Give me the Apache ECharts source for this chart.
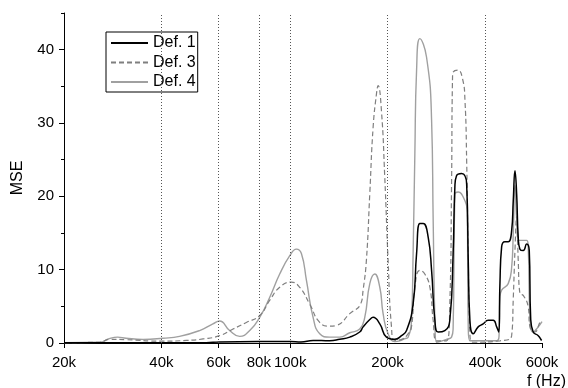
<!DOCTYPE html>
<html><head><meta charset="utf-8">
<script src="https://cdn.jsdelivr.net/npm/echarts@6/dist/echarts.min.js"></script>
<style>html,body{margin:0;padding:0;background:#fff}#c{width:568px;height:388px}</style>
</head><body><div id="c"></div>
<script>
// frequencies in kHz
const xTickValues = [20, 40, 60, 80, 100, 200, 400, 600];
const gridLineValues = [40, 60, 80, 100, 200, 400];
const yMajorTicks = [0, 10, 20, 30, 40];
const yMinorTicks = [5, 15, 25, 35, 45];
const seriesNames = ['Def. 1', 'Def. 3', 'Def. 4'];

const def1Freq = [20, 40, 55, 60.5, 80, 100, 108, 117.7, 132.5, 142.3, 152.8, 164, 168, 176.2, 180.4, 189.2, 198.4, 210.5, 220.8, 228.8, 239.8, 245.8, 251.6, 257.6, 267, 273.5, 280, 286.6, 300.5, 311.4, 318.8, 322.8, 326.6, 338.6, 351, 355, 359.2, 367.8, 381, 394.8, 409, 424, 434.6, 441, 444.8, 450.2, 460.8, 471.8, 483.4, 489, 495, 501, 506.6, 512.8, 525, 537.8, 548, 553.4, 563.6, 584.2, 598.4, 600];
const def1Mse = [0.02, 0.03, 0.05, 0.15, 0.2, 0.2, 0.15, 0.35, 0.3, 0.5, 0.8, 1.5, 2.2, 3.2, 3.5, 2.6, 0.8, 0.5, 1.0, 1.7, 5.3, 12.2, 16.3, 16.3, 14.4, 9.9, 3.1, 1.5, 1.7, 3.1, 12.2, 21.3, 22.8, 23.1, 21.7, 11.3, 3.1, 1.25, 2.2, 2.6, 3.1, 3.1, 2.2, 1.5, 8.1, 13.1, 13.8, 13.8, 15.3, 19.4, 23.5, 20.3, 14.4, 12.8, 12.6, 13.5, 12.6, 3.5, 1.5, 1.0, 0.35, 0.3];

const def3Freq = [20, 25.8, 27.6, 31.1, 40, 47.8, 53.8, 60.5, 66.6, 73.2, 80.5, 86.4, 92.8, 100.9, 107, 114.9, 123.4, 132.5, 139, 152.8, 165, 168, 172, 176.2, 180.4, 184.8, 186.9, 191.4, 196, 200.7, 205.6, 210.5, 221, 231, 237, 242.8, 251.6, 260.6, 270.2, 276.6, 283.4, 304.2, 311.4, 315.2, 317.6, 330, 341, 346.8, 351, 355, 359.2, 367.8, 444.8, 483.4, 489, 495, 501, 506.6, 512.8, 525, 544, 550.6, 570.6, 591.4, 600];
const def3Mse = [0.05, 0.1, 0.5, 0.45, 0.25, 0.35, 0.55, 1.0, 1.9, 2.8, 3.75, 5.8, 7.6, 8.3, 7.6, 5.3, 2.8, 2.3, 2.4, 4.0, 5.3, 7.2, 11.3, 20.4, 29.4, 34, 35.1, 31.7, 22.6, 11.3, 2.2, 0.35, 0.5, 1.2, 2.2, 7.6, 9.9, 9.4, 7.6, 3.1, 0.3, 0.3, 5.4, 21.3, 36.7, 37.2, 36, 33.1, 24.9, 11.3, 1.25, 0.1, 0.3, 1.0, 6, 12.6, 17.2, 11.3, 6.7, 6.5, 4.9, 2.2, 1.5, 2.8, 3.0];

const def4Freq = [20, 25.8, 27.6, 29.3, 31.1, 35.1, 40.4, 45.5, 52.5, 57.7, 60.5, 65, 69.8, 75, 80.5, 86.4, 92.8, 99.7, 104.5, 108.3, 112.3, 117.7, 123.4, 132.5, 142.3, 152.8, 164, 170, 176.2, 182.5, 189.2, 193.7, 200.7, 210.5, 218, 226, 231.4, 237, 239.8, 242.8, 245.8, 251.6, 263.8, 273.5, 276.6, 280, 283.4, 290, 304.2, 315.2, 318.8, 322.8, 330.4, 346.8, 352.4, 355, 359.2, 434.6, 442, 444.8, 450.2, 471.8, 483.4, 489, 495, 501, 510.2, 525, 537.8, 544, 550.6, 563.6, 584.2, 600];
const def4Mse = [0.05, 0.1, 0.6, 0.8, 0.65, 0.5, 0.65, 0.9, 1.7, 2.6, 3.0, 1.7, 0.9, 1.7, 3.5, 6.2, 9.4, 11.9, 12.8, 12.2, 8.5, 3.5, 1.25, 0.8, 0.8, 1.4, 1.9, 3.5, 8.1, 9.4, 7.6, 4.0, 1.25, 0.2, 0.3, 0.6, 0.8, 3.1, 12.2, 25.8, 37.2, 41.5, 39, 30.4, 16.7, 3.1, 0.1, 0.2, 0.5, 0.8, 2, 20.3, 20.6, 19.4, 18.1, 2.2, 0.3, 0.3, 1.0, 6.2, 7.2, 8.1, 10.3, 15, 21.5, 17, 14, 14, 14, 13.1, 3.5, 1.5, 2.2, 2.9];

const pairs = (fs, vs) => fs.map((f, i) => [f, vs[i]]);
const font = 'Liberation Sans, Arial, sans-serif';

const chart = echarts.init(document.getElementById('c'), null, {renderer: 'canvas'});
chart.setOption({
  animation: false,
  backgroundColor: '#fff',
  grid: {left: 64, right: 26, top: 13, bottom: 45},
  legend: {
    data: seriesNames,
    orient: 'vertical',
    left: 106, top: 32,
    padding: [3, 2, 2, 4],
    itemGap: 3.5,
    itemWidth: 37, itemHeight: 14,
    backgroundColor: '#fff',
    borderColor: '#000', borderWidth: 1, borderRadius: 0,
    itemStyle: {color: 'transparent', borderColor: 'transparent', borderWidth: 0, opacity: 0},
    textStyle: {fontFamily: font, fontSize: 16, color: '#000'},
    selectedMode: false
  },
  xAxis: {
    type: 'log', logBase: 10, min: 20, max: 600,
    axisLine: {lineStyle: {color: '#000', width: 1}},
    axisTick: {show: true, customValues: xTickValues, length: 5, inside: false, lineStyle: {color: '#000'}},
    axisLabel: {customValues: xTickValues, formatter: v => Math.round(v) + 'k', fontFamily: font, fontSize: 15, color: '#000', margin: 12},
    splitLine: {show: false},
    minorTick: {show: false}
  },
  yAxis: [{
    type: 'value', min: 0, max: 45,
    name: 'MSE', nameLocation: 'middle', nameGap: 38,
    nameTextStyle: {fontFamily: font, fontSize: 16, color: '#000'},
    axisLine: {show: true, lineStyle: {color: '#000', width: 1}},
    axisTick: {show: true, customValues: yMajorTicks, length: 5, lineStyle: {color: '#000'}},
    axisLabel: {customValues: yMajorTicks, fontFamily: font, fontSize: 15, color: '#000', margin: 10},
    splitLine: {show: false}
  }, {
    type: 'value', min: 0, max: 45, position: 'left',
    axisLine: {show: false},
    axisTick: {show: true, customValues: yMinorTicks, length: 3, lineStyle: {color: '#000'}},
    axisLabel: {show: false},
    splitLine: {show: false}
  }],
  graphic: [{
    type: 'text', x: 566, y: 382,
    style: {text: 'f (Hz)', fontFamily: font, fontSize: 16, fill: '#000', align: 'right', verticalAlign: 'middle'}
  }],
  series: [
    {
      type: 'line', data: [], z: 1, silent: true,
      markLine: {
        silent: true, symbol: 'none', label: {show: false},
        lineStyle: {type: [1, 2], color: '#555', width: 1},
        data: gridLineValues.map(v => ({xAxis: v}))
      }
    },
    {
      name: seriesNames[0], type: 'line', data: pairs(def1Freq, def1Mse), showSymbol: false, symbol: 'none',
      smooth: 0.5, z: 4,
      lineStyle: {color: '#000', width: 1.5}, itemStyle: {color: '#000'}
    },
    {
      name: seriesNames[1], type: 'line', data: pairs(def3Freq, def3Mse), showSymbol: false, symbol: 'none',
      smooth: 0.5, z: 3,
      lineStyle: {color: '#7f7f7f', width: 1.2, type: [5, 3]}, itemStyle: {color: '#7f7f7f'}
    },
    {
      name: seriesNames[2], type: 'line', data: pairs(def4Freq, def4Mse), showSymbol: false, symbol: 'none',
      smooth: 0.5, z: 2,
      lineStyle: {color: '#a0a0a0', width: 1.4}, itemStyle: {color: '#a0a0a0'}
    }
  ]
});
</script>
</body></html>
